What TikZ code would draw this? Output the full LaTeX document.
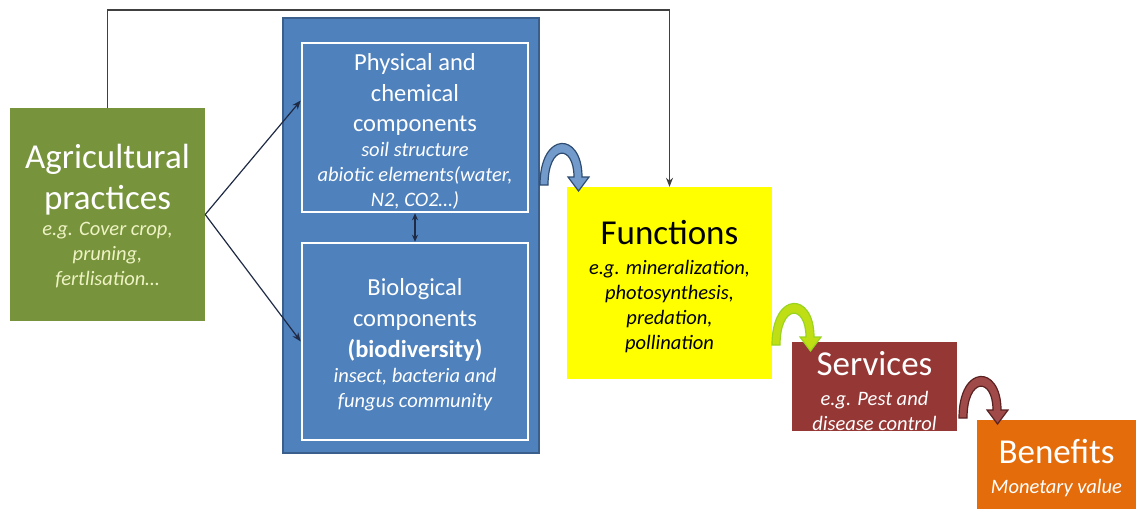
\documentclass[tikz,border=0pt]{standalone}
\usepackage{fontspec}
\setmainfont{Carlito}
\usetikzlibrary{arrows.meta, positioning}
\definecolor{agrigreen}{HTML}{77933C}
\definecolor{agripale}{HTML}{EEF3C4}
\definecolor{compblue}{HTML}{4F81BD}
\definecolor{compedge}{HTML}{3A5F8D}
\definecolor{funcyellow}{HTML}{FFFF00}
\definecolor{servred}{HTML}{953735}
\definecolor{beneorange}{HTML}{E46C0A}
\definecolor{linkgray}{HTML}{404040}
\definecolor{linknavy}{HTML}{1F2A44}

\newcommand{\head}[2][white]{{\upshape\color{#1}\fontsize{35}{35}\selectfont #2}}
\newcommand{\sub}[1]{{\upshape\fontsize{24.5}{24.5}\selectfont #1}}

\tikzset{
  box/.style={rectangle, inner sep=0pt, align=center, text=white,
    font=\fontsize{20.5}{25}\selectfont\itshape},
  link/.style={-{Stealth[length=9pt,width=7pt]}, line width=1.2pt, draw=linknavy},
  pics/bentarrow/.style 2 args={code={
    \filldraw[fill=#1, draw=#2, line width=1.2pt]
      (-21,0) .. controls (-21,-54) and (21,-54) .. (21,-8)
      -- (28,-8) -- (17.5,6) -- (7,-8) -- (13,-8)
      .. controls (13,-41) and (-13,-41) .. (-13,0) -- cycle;
  }}
}

\begin{document}
\begin{tikzpicture}[x=1pt, y=-1pt]
  \useasboundingbox (0,0) rectangle (1136,509);

  \node[box, fill=agrigreen, text=agripale, minimum width=195pt, minimum height=213pt]
    (agri) at (107.5,214.5)
    {\rule{0pt}{28pt}\head{Agricultural}\\[10pt]\head{practices}\\[1pt] e.g. Cover crop,\\ pruning,\\ fertlisation\ldots};

  \node[box, fill=compblue, draw=compedge, line width=2.5pt, minimum width=256pt, minimum height=435pt]
    (comp) at (411,235.5) {};
  \node[box, fill=compblue, draw=white, line width=2.5pt, minimum width=226pt, minimum height=169pt]
    (phys) at (415,127.5)
    {\rule{0pt}{24pt}\sub{Physical and}\\[6pt]\sub{chemical}\\[5pt]\sub{components}\\ soil structure\\ abiotic elements(water,\\ N2, CO2\ldots)};
  \node[box, fill=compblue, draw=white, line width=2.5pt, minimum width=226pt, minimum height=197pt]
    (bio) at (415,341.5)
    {\rule{0pt}{24pt}\sub{Biological}\\[6pt]\sub{components}\\[6pt]{\upshape\bfseries\fontsize{24.5}{24.5}\selectfont (biodiversity)}\\ insect, bacteria and\\ fungus community};

  \node[box, fill=funcyellow, text=black, minimum width=205pt, minimum height=192pt]
    (func) at (669.5,283)
    {\rule{0pt}{32pt}\head[black]{Functions}\\[5pt] e.g. mineralization,\\ photosynthesis,\\ predation,\\ pollination};
  \node[box, fill=servred, minimum width=165pt, minimum height=87pt]
    (serv) at (874.5,386.5)
    {\rule{0pt}{33pt}\head{Services}\\[5pt] e.g. Pest and\\ disease control};
  \node[box, fill=beneorange, minimum width=159pt, minimum height=89pt]
    (bene) at (1056.5,464.5)
    {\rule{0pt}{31pt}\head{Benefits}\\[5pt] Monetary value};

  % links from the practices
  \coordinate (top) at (390,10);
  \draw[link, draw=linkgray] (agri.north) |- (top) -| (func.north);
  \draw[link] (agri.east) -- ([yshift=27pt]phys.west);
  \draw[link] (agri.east) -- (bio.west);
  \draw[link, {Stealth[length=7pt,width=6pt]}-{Stealth[length=7pt,width=6pt]}] (phys.south) -- (bio.north);

  % bent arrows along the chain
  \pic at (561,185) {bentarrow={compblue!80!white}{compedge!80!black}};
  \pic at (793,345) {bentarrow={yellow!75!green}{yellow!60!green}};
  \pic at (980,418) {bentarrow={servred!90!white}{servred!60!black}};
\end{tikzpicture}
\end{document}
